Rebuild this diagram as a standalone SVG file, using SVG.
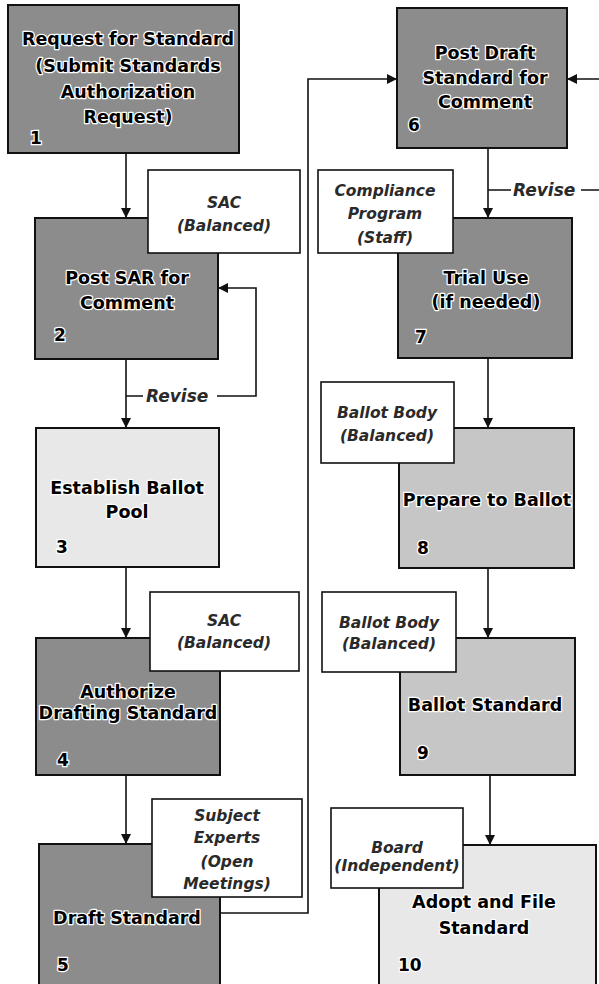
<svg xmlns="http://www.w3.org/2000/svg" width="599" height="984" viewBox="0 0 599 984">
<style>
.dark{fill:#8c8c8c;stroke:#111;stroke-width:2}
.mid{fill:#c6c6c6;stroke:#111;stroke-width:2}
.light{fill:#e8e8e8;stroke:#111;stroke-width:2}
.role{fill:#fff;stroke:#111;stroke-width:1.6}
.t{font-family:"DejaVu Sans",sans-serif;font-weight:bold;font-size:17.5px;fill:#000;stroke:#fff;stroke-width:2.5;paint-order:stroke;stroke-linejoin:round;text-anchor:middle}
.n{font-family:"DejaVu Sans",sans-serif;font-weight:bold;font-size:17px;fill:#000;stroke:#fff;stroke-width:2.5;paint-order:stroke}
.r{font-family:"DejaVu Sans",sans-serif;font-weight:bold;font-style:italic;font-size:15.5px;fill:#2a2a2a;text-anchor:middle}
.rv{font-family:"DejaVu Sans",sans-serif;font-weight:bold;font-style:italic;font-size:17px;fill:#2a2a2a}
.c{fill:none;stroke:#111;stroke-width:1.6}
</style>
<defs>
<marker id="ah" markerWidth="10" markerHeight="10" refX="9" refY="5" orient="auto" markerUnits="userSpaceOnUse">
<path d="M0,0 L10,5 L0,10 Z" fill="#111"/>
</marker>
</defs>

<g id="connectors">
<path class="c" d="M126,153 V217" marker-end="url(#ah)"/>
<path class="c" d="M126,359 V427" marker-end="url(#ah)"/>
<path class="c" d="M126,396 H143 M217,396 H256 V288 H219" marker-end="url(#ah)"/>
<path class="c" d="M126,567 V637" marker-end="url(#ah)"/>
<path class="c" d="M126,775 V843" marker-end="url(#ah)"/>
<path class="c" d="M220,913 H308 V79 H396" marker-end="url(#ah)"/>
<path class="c" d="M488,148 V217" marker-end="url(#ah)"/>
<path class="c" d="M488,190 H511 M581,190 H606 V79 H568" marker-end="url(#ah)"/>
<path class="c" d="M488,358 V427" marker-end="url(#ah)"/>
<path class="c" d="M488,568 V637" marker-end="url(#ah)"/>
<path class="c" d="M490,775 V844" marker-end="url(#ah)"/>
<text class="rv" x="146" y="402">Revise</text>
<text class="rv" x="513" y="196">Revise</text>
</g>

<g id="node1">
<rect class="dark" x="8" y="5" width="231" height="148"/>
<text class="t" x="128" y="45">Request for Standard</text>
<text class="t" x="128" y="72">(Submit Standards</text>
<text class="t" x="128" y="98">Authorization</text>
<text class="t" x="128" y="123">Request)</text>
<text class="n" x="30" y="144">1</text>
</g>

<g id="node2">
<rect class="dark" x="35" y="218" width="183" height="141"/>
<text class="t" x="127" y="284">Post SAR for</text>
<text class="t" x="127" y="309">Comment</text>
<text class="n" x="54" y="341">2</text>
</g>

<g id="node3">
<rect class="light" x="36" y="428" width="183" height="139"/>
<text class="t" x="127" y="494">Establish Ballot</text>
<text class="t" x="127" y="518">Pool</text>
<text class="n" x="56" y="553">3</text>
</g>

<g id="node4">
<rect class="dark" x="36" y="638" width="184" height="137"/>
<text class="t" x="128" y="698">Authorize</text>
<text class="t" x="128" y="719">Drafting Standard</text>
<text class="n" x="57" y="766">4</text>
</g>

<g id="node5">
<rect class="dark" x="39" y="844" width="181" height="150"/>
<text class="t" x="127" y="924">Draft Standard</text>
<text class="n" x="57" y="971">5</text>
</g>

<g id="node6">
<rect class="dark" x="397" y="8" width="170" height="140"/>
<text class="t" x="485" y="59">Post Draft</text>
<text class="t" x="485" y="84">Standard for</text>
<text class="t" x="485" y="108">Comment</text>
<text class="n" x="408" y="131">6</text>
</g>

<g id="node7">
<rect class="dark" x="398" y="218" width="174" height="140"/>
<text class="t" x="486" y="284">Trial Use</text>
<text class="t" x="486" y="308">(if needed)</text>
<text class="n" x="415" y="343">7</text>
</g>

<g id="node8">
<rect class="mid" x="399" y="428" width="175" height="140"/>
<text class="t" x="487" y="506">Prepare to Ballot</text>
<text class="n" x="417" y="554">8</text>
</g>

<g id="node9">
<rect class="mid" x="400" y="638" width="175" height="137"/>
<text class="t" x="485" y="711">Ballot Standard</text>
<text class="n" x="417" y="759">9</text>
</g>

<g id="node10">
<rect class="light" x="379" y="845" width="217" height="149"/>
<text class="t" x="484" y="908">Adopt and File</text>
<text class="t" x="484" y="934">Standard</text>
<text class="n" x="398" y="971">10</text>
</g>

<g id="role-sac1">
<rect class="role" x="148" y="170" width="152" height="83"/>
<text class="r" x="224" y="208">SAC</text>
<text class="r" x="224" y="231">(Balanced)</text>
</g>

<g id="role-sac2">
<rect class="role" x="150" y="592" width="149" height="79"/>
<text class="r" x="224" y="626">SAC</text>
<text class="r" x="224" y="648">(Balanced)</text>
</g>

<g id="role-experts">
<rect class="role" x="152" y="799" width="150" height="98"/>
<text class="r" x="227" y="821">Subject</text>
<text class="r" x="227" y="843">Experts</text>
<text class="r" x="227" y="867">(Open</text>
<text class="r" x="227" y="889">Meetings)</text>
</g>

<g id="role-compliance">
<rect class="role" x="318" y="170" width="135" height="83"/>
<text class="r" x="385" y="196">Compliance</text>
<text class="r" x="385" y="219">Program</text>
<text class="r" x="385" y="243">(Staff)</text>
</g>

<g id="role-ballot1">
<rect class="role" x="321" y="382" width="133" height="81"/>
<text class="r" x="387" y="418">Ballot Body</text>
<text class="r" x="387" y="441">(Balanced)</text>
</g>

<g id="role-ballot2">
<rect class="role" x="322" y="592" width="134" height="80"/>
<text class="r" x="389" y="628">Ballot Body</text>
<text class="r" x="389" y="649">(Balanced)</text>
</g>

<g id="role-board">
<rect class="role" x="331" y="808" width="132" height="80"/>
<text class="r" x="397" y="853">Board</text>
<text class="r" x="397" y="871">(Independent)</text>
</g>
</svg>
